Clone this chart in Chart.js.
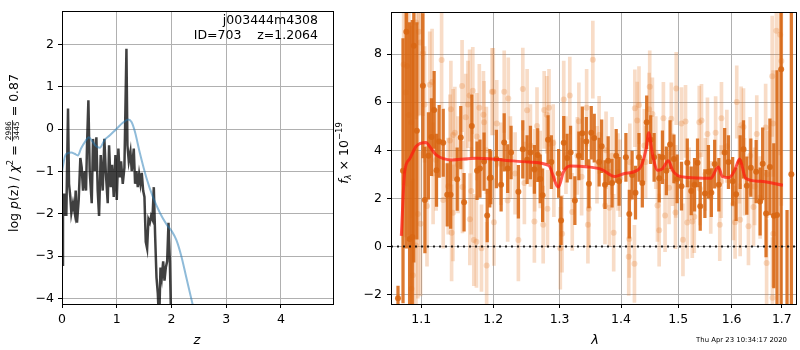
<!DOCTYPE html>
<html><head><meta charset="utf-8">
<script src="https://cdn.jsdelivr.net/npm/chart.js@4.4.1/dist/chart.umd.min.js"></script>
<style>
html,body{margin:0;padding:0;background:#fff;}
#wrap{position:relative;width:800px;height:350px;overflow:hidden;}
canvas{position:absolute;left:0;top:0;}
</style></head><body>
<div id="wrap"><canvas id="c1" width="800" height="350"></canvas><canvas id="c2" width="800" height="350"></canvas></div>
<script>
// ---------------- Left panel data: log p(z) ----------------
const zTicks = [0, 1, 2, 3, 4];
const pzTicks = [-4, -3, -2, -1, 0, 1, 2];
const zDark = [0.0,0.018,0.037,0.061,0.079,0.110,0.128,0.152,0.171,0.201,0.232,0.250,0.274,0.305,0.335,0.360,0.384,0.415,0.439,0.457,0.482,0.506,0.543,0.567,0.598,0.628,0.652,0.677,0.707,0.744,0.774,0.799,0.835,0.860,0.890,0.915,0.945,0.976,1.000,1.030,1.055,1.079,1.110,1.140,1.177,1.195,1.220,1.250,1.274,1.311,1.335,1.360,1.384,1.409,1.433,1.457,1.482,1.506,1.530,1.555,1.579,1.604,1.628,1.652,1.677,1.701,1.726,1.750,1.774,1.799,1.823,1.848,1.872,1.896,1.921,1.945,1.970,1.994];
const logpDark = [-3.20,-1.52,-2.05,-1.52,-2.05,0.49,-1.29,-1.60,-1.98,-1.75,-1.98,-1.45,-2.21,-1.67,-0.68,-0.91,-1.45,-0.99,-1.45,-0.38,0.68,-0.99,-1.75,-0.23,-0.99,-0.19,-1.45,-2.05,-0.61,-1.45,-0.23,-0.99,-1.75,-0.38,-1.37,-0.84,-1.60,-0.61,-1.67,-0.46,-1.14,-0.76,-1.29,-0.91,1.90,-0.38,-0.76,-0.53,-0.99,-0.46,-1.29,-0.99,-1.37,-1.07,-1.29,-1.03,-1.45,-1.60,-2.66,-2.82,-2.13,-2.21,-2.05,-2.13,-1.37,-2.51,-3.50,-3.88,-4.60,-3.27,-3.50,-3.12,-3.58,-3.27,-3.12,-2.21,-3.12,-4.60];
const zBlue = [0.0,0.03,0.06,0.10,0.17,0.23,0.29,0.35,0.42,0.49,0.55,0.62,0.69,0.78,0.87,0.99,1.11,1.21,1.27,1.33,1.42,1.54,1.66,1.79,1.91,2.00,2.09,2.18,2.27,2.37,2.45];
const logpBlue = [-1.0,-0.78,-0.62,-0.57,-0.55,-0.58,-0.62,-0.45,-0.30,-0.19,-0.28,-0.40,-0.44,-0.25,-0.15,0.0,0.15,0.23,0.17,-0.05,-0.55,-1.14,-1.60,-1.98,-2.25,-2.40,-2.62,-3.0,-3.5,-4.05,-4.5];

// ---------------- Right panel data: spectrum ----------------
const lamTicks = [1.1, 1.2, 1.3, 1.4, 1.5, 1.6, 1.7];
const fluxTicks = [-2, 0, 2, 4, 6, 8];
const lamDark = [1.0696,1.0761,1.0804,1.0847,1.0882,1.0902,1.0942,1.1022,1.1049,1.1096,1.1137,1.1173,1.1205,1.1241,1.1296,1.1351,1.1397,1.1488,1.1538,1.1584,1.1693,1.1767,1.1808,1.1867,1.1912,1.1949,1.1963,1.2045,1.2114,1.2159,1.2210,1.2260,1.2369,1.2435,1.2500,1.2550,1.2610,1.2661,1.2700,1.2736,1.2820,1.2871,1.2985,1.3023,1.3065,1.3119,1.3173,1.3242,1.3306,1.3361,1.3426,1.3468,1.3506,1.3555,1.3635,1.3677,1.3732,1.3785,1.3850,1.3919,1.3968,1.4083,1.4141,1.4189,1.4247,1.4307,1.4365,1.4441,1.4511,1.4571,1.4660,1.4718,1.4788,1.4854,1.4924,1.4982,1.5061,1.5166,1.5239,1.5300,1.5355,1.5405,1.5492,1.5558,1.5613,1.5676,1.5755,1.5866,1.5939,1.6020,1.6087,1.6166,1.6231,1.6296,1.6375,1.6481,1.6560,1.6611,1.6679,1.6757,1.6836,1.6901,1.6986,1.7107,1.7196];
const fluxDark = [-2.15,3.15,8.93,0.31,0.40,8.35,4.81,6.68,1.93,3.77,4.55,5.68,3.17,4.37,4.31,2.15,2.15,2.80,4.53,1.84,5.01,3.15,3.24,3.53,1.29,2.84,2.87,3.64,2.57,4.33,3.24,3.91,2.28,4.04,3.61,3.91,3.21,3.80,2.81,2.13,4.44,3.51,3.04,1.08,4.31,3.68,3.91,1.91,3.77,4.71,4.37,2.61,4.73,4.51,3.51,4.17,2.57,3.57,2.64,3.77,2.71,3.71,1.35,2.97,2.24,3.71,2.64,5.17,4.44,3.71,2.84,3.71,3.15,4.24,3.64,2.81,2.51,3.48,2.31,2.57,3.48,1.67,2.20,3.11,2.24,3.43,2.57,3.91,3.51,2.71,2.17,3.51,4.04,2.53,3.28,3.11,1.87,3.44,1.37,3.31,1.28,1.31,7.37,-3.0,3.0];
const errDark = [0.5,5.5,9,9,9,9,4.5,3.0,2.2,1.8,1.6,1.6,1.5,1.5,1.4,1.3,1.4,1.3,1.3,1.2,1.3,1.2,1.2,1.2,1.1,1.2,
 1.1,1.2,1.1,1.2,1.0,1.1,1.1,1.2,1.0,1.1,1.0,1.1,1.0,1.1,1.0,1.1,1.0,1.0,1.1,1.0,1.1,1.0,1.0,1.1,1.0,1.0,1.1,
 1.0,1.0,1.1,1.0,1.0,1.0,1.1,1.0,1.0,1.0,1.0,1.1,1.0,1.0,1.1,1.0,1.0,1.0,1.1,1.0,1.0,1.0,1.0,1.0,1.0,1.0,1.1,
 1.0,1.0,1.0,1.1,1.0,1.0,1.1,1.0,1.1,1.0,1.1,1.1,1.2,1.2,1.2,1.3,1.4,1.5,1.8,2.0,3.0,6.0,10,4.5,10];

const lamLight = [
 1.0934,1.0968,1.0987,1.1022,1.0769,1.0812,1.0795,1.0837,1.0869,1.1045,
 1.1114,1.1145,1.1274,1.1401,1.1433,1.1456,1.1556,1.1607,1.1638,1.1662,
 1.1707,1.1799,1.1858,1.1867,1.1981,1.1762,1.1388,1.0955,1.0991,1.1077,
 1.0930,1.0889,1.0872,1.1296,1.1430,1.1411,1.1665,1.1721,1.1758,1.1830,
 1.1904,1.1685,1.1562,1.1159,1.1364,1.2000,1.2159,1.2219,1.2050,1.2435,
 1.2500,1.2650,1.2760,1.2800,1.2835,1.3065,1.3161,1.3306,1.3431,1.3532,
 1.2009,1.2369,1.2610,1.2745,1.2811,1.3039,1.3011,1.3200,1.3452,1.3468,
 1.2210,1.2459,1.2110,1.2320,1.2615,1.2910,1.3281,1.4236,1.4307,1.4494,
 1.4483,1.4541,1.4277,1.4735,1.4877,1.4965,1.5061,1.5134,1.3635,1.3877,
 1.4131,1.4229,1.4141,1.3732,1.3806,1.4660,1.4630,1.4765,1.4952,1.5087,
 1.5166,1.5258,1.4957,1.4836,1.3984,1.3850,1.4423,1.5387,1.5429,1.5540,
 1.5694,1.5805,1.6099,1.6185,1.6231,1.6493,1.6671,1.6822,1.6803,1.6888,
 1.6966,1.6990,1.5773,1.6067,1.6166,1.6329,1.6690,1.6826,1.6809,1.6428,
 1.6034,1.5295,1.5602,1.6560,1.5908,1.6363,1.1200,1.1500,1.1900,1.2250,
 1.2550,1.2700,1.3100,1.3350,1.3600,1.3950,1.4150,1.4400,1.4600,1.4900,
 1.5200,1.5500,1.5800,1.6150,1.6450,1.6700,1.2900,1.3750,1.5400,1.6250];
const fluxLight = [
 9.31,8.93,8.48,8.04,7.57,7.51,6.40,5.47,5.17,5.91,
 6.73,6.84,7.75,5.71,4.64,4.73,6.67,5.37,5.91,6.28,
 6.48,5.77,5.48,5.17,6.44,4.57,4.41,1.35,0.95,1.68,
 0.04,-1.19,-1.76,1.93,1.40,0.57,1.13,0.27,0.20,-0.07,
 -0.79,2.31,2.47,3.04,2.51,6.44,6.44,6.15,5.11,6.55,
 5.67,5.01,5.68,5.48,5.77,6.11,6.28,5.21,5.77,7.77,
 1.01,0.27,1.04,0.91,1.57,0.53,-0.07,1.44,0.91,1.57,
 1.91,2.64,3.44,3.04,3.17,2.84,3.77,5.75,5.88,6.64,
 5.71,5.51,5.24,5.33,5.31,6.57,5.11,5.20,4.64,0.57,
 -0.43,-0.72,0.31,1.71,1.61,0.68,1.71,1.29,1.41,0.28,
 1.00,1.04,2.71,2.44,2.84,3.77,3.51,5.17,5.24,4.68,
 4.73,5.33,6.01,5.04,4.97,4.68,4.95,5.11,7.08,8.97,
 8.81,7.71,0.91,1.01,1.11,0.84,-0.69,0.53,-2.13,1.64,
 1.77,1.24,2.04,2.04,4.17,3.77,3.6,3.4,4.0,3.7,
 4.2,3.2,3.8,2.9,3.4,3.1,3.5,4.2,3.9,3.2,
 2.6,3.0,2.7,3.4,2.5,3.0,4.3,4.0,2.4,2.9];
const errLight = [
 4,3.5,3,2.6,5,5,6,5,4,2.4,
 2.2,2.2,2.0,2.0,1.9,1.9,1.9,1.8,1.8,1.9,
 1.8,1.8,1.8,1.7,1.8,1.8,1.9,3.5,3,2.5,
 4,4,4.5,2.0,2.0,2.0,1.9,1.9,1.9,1.8,
 1.8,1.8,1.9,2.1,2.0,1.8,1.7,1.7,1.8,1.7,
 1.7,1.6,1.6,1.6,1.6,1.6,1.6,1.6,1.6,1.6,
 1.8,1.7,1.7,1.6,1.6,1.6,1.7,1.6,1.6,1.6,
 1.7,1.7,1.7,1.7,1.7,1.6,1.6,1.6,1.6,1.5,
 1.5,1.5,1.6,1.5,1.5,1.5,1.5,1.5,1.6,1.6,
 1.6,1.6,1.6,1.6,1.6,1.5,1.5,1.5,1.5,1.5,
 1.5,1.5,1.5,1.5,1.6,1.6,1.5,1.5,1.5,1.5,
 1.5,1.5,1.5,1.6,1.6,1.6,1.8,2.2,2.5,3,
 5,6,1.5,1.5,1.5,1.6,1.8,2.2,2.5,1.6,
 1.5,1.5,1.5,1.7,1.5,1.6,2.1,2.0,1.8,1.7,
 1.7,1.6,1.6,1.6,1.6,1.6,1.6,1.5,1.5,1.5,
 1.5,1.5,1.5,1.6,1.6,1.8,1.6,1.6,1.5,1.6];

const lamModel = [1.0739,1.0782,1.0847,1.0934,1.1066,1.1110,1.1199,1.1425,1.1749,1.2129,1.2524,1.2828,1.2982,1.3060,1.3165,1.3456,1.3673,1.3895,1.4062,1.4317,1.4430,1.4477,1.4547,1.4634,1.4722,1.4823,1.4899,1.4989,1.5170,1.5604,1.5743,1.5824,1.5952,1.6059,1.6156,1.6273,1.6564,1.7021];
const fluxModel = [0.44,3.10,3.64,4.17,4.33,4.17,3.81,3.60,3.67,3.60,3.51,3.37,2.47,3.10,3.35,3.31,3.21,2.91,3.04,3.24,4.04,4.73,3.77,3.17,3.24,3.57,3.17,2.95,2.87,2.84,3.31,2.91,2.87,3.17,3.64,2.84,2.71,2.55];

// ---------------- Styling ----------------
const FAM = "'DejaVu Sans', sans-serif";
Chart.defaults.font.family = FAM;
Chart.defaults.font.size = 12.5;
Chart.defaults.color = '#000';
const GRID = '#b0b0b0';
const minus = v => String(v).replace('-', '\u2212');
const al = p => Math.round(p - 0.5) + 0.5;

const boxPlugin = {
  id: 'box',
  afterDraw(chart) {
    const {ctx, chartArea: a} = chart;
    ctx.save();
    ctx.strokeStyle = '#000'; ctx.lineWidth = 1;
    ctx.strokeRect(al(a.left), al(a.top), al(a.right) - al(a.left), al(a.bottom) - al(a.top));
    ctx.restore();
  }
};

function drawParts(ctx, parts, baseX, cy) {
  ctx.save();
  ctx.translate(baseX, cy);
  ctx.rotate(-Math.PI / 2);
  ctx.fillStyle = '#000';
  ctx.textBaseline = 'alphabetic';
  ctx.textAlign = 'left';
  let total = 0;
  const widths = parts.map(p => {
    ctx.font = p.font;
    const w = p.frac ? Math.max(ctx.measureText(p.frac[0]).width, ctx.measureText(p.frac[1]).width) + 2 : ctx.measureText(p.t).width;
    total += w; return w;
  });
  let x = -total / 2;
  parts.forEach((p, i) => {
    ctx.font = p.font;
    const w = widths[i];
    if (p.frac) {
      const wn = ctx.measureText(p.frac[0]).width, wd = ctx.measureText(p.frac[1]).width;
      ctx.fillText(p.frac[0], x + (w - wn) / 2, p.numDy);
      ctx.fillText(p.frac[1], x + (w - wd) / 2, p.denDy);
      ctx.fillRect(x, p.barDy, w, 0.8);
    } else {
      ctx.fillText(p.t, x, p.dy || 0);
    }
    x += w;
  });
  ctx.restore();
}

const leftText = {
  id: 'leftText',
  afterDraw(chart) {
    const ctx = chart.ctx;
    ctx.save();
    ctx.fillStyle = '#000';
    ctx.font = '12.5px ' + FAM;
    ctx.textAlign = 'right';
    ctx.textBaseline = 'alphabetic';
    ctx.fillText('j003444m4308', 318, 24);
    ctx.fillText('ID=703    z=1.2064', 318, 39);
    ctx.textAlign = 'center';
    ctx.font = 'italic 13px ' + FAM;
    ctx.fillText('z', 197, 344);
    ctx.restore();
    const F = '12.5px ' + FAM, FI = 'italic 12.5px ' + FAM, FS = '8.5px ' + FAM, FF = '7.5px ' + FAM;
    drawParts(ctx, [
      {t: 'log ', font: F}, {t: 'p', font: FI}, {t: '(z) / ', font: F}, {t: '\u03c7', font: FI},
      {t: '2', font: FS, dy: -5}, {t: ' = ', font: F},
      {frac: ['2986', '3445'], font: FF, numDy: -6.5, denDy: 1, barDy: -5.3},
      {t: ' = 0.87', font: F}
    ], 17.5, 153);
  }
};

const rightText = {
  id: 'rightText',
  afterDraw(chart) {
    const ctx = chart.ctx;
    ctx.save();
    ctx.fillStyle = '#000';
    ctx.textAlign = 'center';
    ctx.textBaseline = 'alphabetic';
    ctx.font = 'italic 13px ' + FAM;
    ctx.fillText('\u03bb', 595, 344);
    ctx.font = '6.9px ' + FAM;
    ctx.textAlign = 'right';
    ctx.fillText('Thu Apr 23 10:34:17 2020', 787, 342);
    ctx.restore();
    const F = '12.5px ' + FAM, FI = 'italic 12.5px ' + FAM, FS = '8.5px ' + FAM;
    drawParts(ctx, [
      {t: 'f', font: FI}, {t: '\u03bb', font: 'italic 8.5px ' + FAM, dy: 3}, {t: ' \u00d7 10', font: F},
      {t: '\u221219', font: FS, dy: -6}
    ], 347.5, 153);
  }
};

const axisCommon = {
  offset: false,
  grid: {color: GRID, lineWidth: 1, tickColor: '#000', tickLength: 4, tickWidth: 1, offset: false},
  border: {display: true, color: '#000', width: 1}
};

// ---------------- Left chart ----------------
new Chart(document.getElementById('c1'), {
  type: 'scatter',
  data: {datasets: [
    {data: zBlue.map((z, i) => ({x: z, y: logpBlue[i]})), showLine: true, borderColor: 'rgba(31,119,180,0.5)',
     borderWidth: 2, pointRadius: 0, cubicInterpolationMode: 'monotone', clip: 0, order: 1},
    {data: zDark.map((z, i) => ({x: z, y: logpDark[i]})), showLine: true, borderColor: 'rgba(0,0,0,0.75)',
     borderWidth: 2.5, pointRadius: 0, tension: 0, clip: 0, order: 2}
  ]},
  options: {
    responsive: false, animation: false, events: [],
    layout: {padding: {left: 0, right: 467, top: 1, bottom: 0}},
    plugins: {legend: {display: false}, tooltip: {enabled: false}},
    scales: {
      x: {type: 'linear', min: 0, max: 4.95, ...axisCommon,
          afterBuildTicks: s => { s.ticks = zTicks.map(v => ({value: v})); },
          afterFit: s => { s.height = 46; },
          ticks: {padding: 4, maxRotation: 0, autoSkip: false, callback: v => minus(v)}},
      y: {type: 'linear', min: -4.13, max: 2.78, ...axisCommon,
          afterBuildTicks: s => { s.ticks = pzTicks.map(v => ({value: v})); },
          afterFit: s => { s.width = 62; },
          ticks: {padding: 4, autoSkip: false, callback: v => minus(v)}}
    }
  },
  plugins: [boxPlugin, leftText]
});

// ---------------- Right chart ----------------
const DARK = 'rgba(216,102,18,0.88)';
const LIGHT = 'rgba(228,120,40,0.26)';
new Chart(document.getElementById('c2'), {
  type: 'scatter',
  data: {datasets: [
    {type: 'bar', data: lamLight.map((l, i) => ({x: l, y: [fluxLight[i] - errLight[i], fluxLight[i] + errLight[i]]})),
     backgroundColor: LIGHT, borderWidth: 0, barThickness: 3, stack: 'err', order: 6, clip: 0},
    {type: 'scatter', data: lamLight.map((l, i) => ({x: l, y: fluxLight[i]})),
     backgroundColor: LIGHT, borderWidth: 0, pointRadius: 3, order: 5, clip: 0},
    {type: 'bar', data: lamDark.map((l, i) => ({x: l, y: [fluxDark[i] - errDark[i], fluxDark[i] + errDark[i]]})),
     backgroundColor: DARK, borderWidth: 0, barThickness: 2.6, stack: 'err', order: 4, clip: 0},
    {type: 'scatter', data: lamDark.map((l, i) => ({x: l, y: fluxDark[i]})),
     backgroundColor: DARK, borderWidth: 0, pointRadius: 3, order: 3, clip: 0},
    {type: 'line', data: [{x: 1.0606, y: 0}, {x: 1.7293, y: 0}], borderColor: 'rgba(0,0,0,0.85)',
     borderWidth: 2, borderDash: [2, 4], pointRadius: 0, order: 2, clip: 0},
    {type: 'line', data: lamModel.map((l, i) => ({x: l, y: fluxModel[i]})), borderColor: 'rgba(255,25,15,0.72)',
     borderWidth: 3, pointRadius: 0, cubicInterpolationMode: 'monotone', order: 1, clip: 0}
  ]},
  options: {
    responsive: false, animation: false, events: [],
    layout: {padding: {left: 340, right: 1, top: 1, bottom: 0}},
    plugins: {legend: {display: false}, tooltip: {enabled: false}},
    scales: {
      x: {type: 'logarithmic', min: 1.0606, max: 1.7293, ...axisCommon,
          afterBuildTicks: s => { s.ticks = lamTicks.map(v => ({value: v})); },
          afterFit: s => { s.height = 46; },
          ticks: {padding: 4, maxRotation: 0, autoSkip: false, callback: v => Number(v).toFixed(1)}},
      y: {type: 'linear', min: -2.39, max: 9.73, stacked: false, ...axisCommon,
          afterBuildTicks: s => { s.ticks = fluxTicks.map(v => ({value: v})); },
          afterFit: s => { s.width = 51; },
          ticks: {padding: 5, autoSkip: false, callback: v => minus(v)}}
    }
  },
  plugins: [boxPlugin, rightText]
});
</script>
</body></html>
